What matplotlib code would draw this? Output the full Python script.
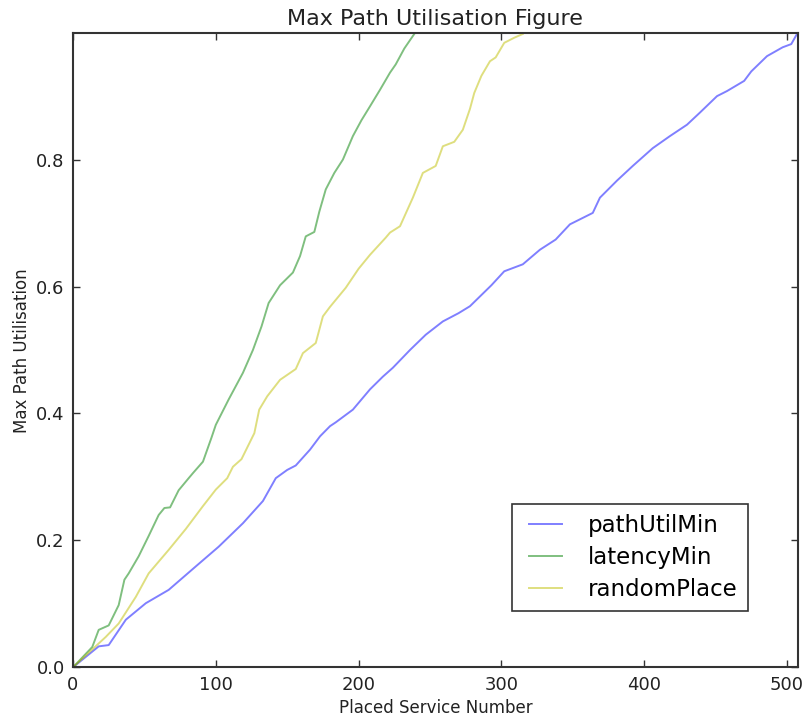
import matplotlib
matplotlib.use("Agg")
import matplotlib.pyplot as plt

# values
path_x = [0, 18, 25, 37, 51, 67, 86, 102, 119, 133, 142, 150, 156, 166, 173, 180, 184, 196,
          208, 217, 224, 236, 247, 259, 270, 278, 293, 302, 315, 327, 338, 348, 364, 369, 381,
          392, 406, 418, 430, 439, 451, 458, 470, 475, 486, 497, 503, 507]
path_y = [0.0, 0.033, 0.035, 0.075, 0.101, 0.122, 0.159, 0.190, 0.227, 0.262, 0.298, 0.311,
          0.318, 0.343, 0.364, 0.380, 0.386, 0.406, 0.438, 0.458, 0.472, 0.500, 0.524, 0.545,
          0.558, 0.569, 0.602, 0.624, 0.635, 0.658, 0.674, 0.698, 0.716, 0.740, 0.767, 0.790,
          0.818, 0.837, 0.855, 0.874, 0.900, 0.908, 0.924, 0.939, 0.963, 0.977, 0.982, 0.998]

lat_x = [0, 13.5, 18, 25, 32, 36, 39, 46, 53, 60, 64, 68, 74, 81, 84, 91, 97, 100, 109, 119,
         126, 132, 137, 145, 154, 159, 163, 169, 172.5, 177, 183, 189, 196, 202, 208, 215, 222,
         226, 232, 239]
lat_y = [0.0, 0.032, 0.059, 0.066, 0.098, 0.138, 0.148, 0.175, 0.207, 0.240, 0.251, 0.252,
         0.279, 0.298, 0.306, 0.324, 0.362, 0.382, 0.422, 0.464, 0.500, 0.537, 0.574, 0.602,
         0.622, 0.648, 0.679, 0.686, 0.718, 0.753, 0.779, 0.800, 0.837, 0.862, 0.884, 0.910,
         0.937, 0.950, 0.975, 0.998]

rand_x = [0, 23, 32, 44, 53, 67, 79, 91, 100, 108, 112, 118, 127, 130.4, 136, 145, 156, 161,
          170, 175, 180, 191, 200, 208, 219, 222, 229, 238, 245, 254, 259, 267, 273, 278, 281,
          286, 292, 296, 302, 309, 315]
rand_y = [0.0, 0.048, 0.069, 0.111, 0.148, 0.185, 0.218, 0.254, 0.280, 0.298, 0.316, 0.328,
          0.369, 0.406, 0.427, 0.453, 0.470, 0.495, 0.511, 0.553, 0.568, 0.598, 0.628, 0.650,
          0.677, 0.685, 0.695, 0.740, 0.779, 0.790, 0.821, 0.828, 0.847, 0.880, 0.905, 0.932,
          0.955, 0.961, 0.984, 0.992, 0.998]

labels = ['pathUtilMin', 'latencyMin', 'randomPlace']

fig = plt.figure(figsize=(8.03, 7.21), dpi=100)
ax = fig.add_axes([73 / 803, 1 - 667.3 / 721, 724.7 / 803, 634 / 721])

ax.plot(path_x, path_y, color='b', alpha=0.5, lw=1.4, label=labels[0])
ax.plot(lat_x, lat_y, color='g', alpha=0.5, lw=1.4, label=labels[1])
ax.plot(rand_x, rand_y, color='y', alpha=0.5, lw=1.4, label=labels[2])

ax.set_xlim(0, 507.5)
ax.set_ylim(0, 0.999)
ax.set_xticks([0, 100, 200, 300, 400, 500])
ax.set_yticks([0.0, 0.2, 0.4, 0.6, 0.8])
ax.tick_params(direction='in', top=True, right=True, length=5, width=1,
               labelsize=13, pad=6, color='#333333', labelcolor='#222222')
for s in ax.spines.values():
    s.set_linewidth(1.5)
    s.set_color('#333333')

ax.set_title('Max Path Utilisation Figure', fontsize=16, color='#222222')
ax.set_xlabel('Placed Service Number', fontsize=12, color='#222222')
ax.set_ylabel('Max Path Utilisation', fontsize=12, color='#222222')

leg = ax.legend(loc='lower right', bbox_to_anchor=(0.931, 0.089), borderaxespad=0,
                fontsize=16.5, fancybox=False, numpoints=2, handlelength=2.05,
                handletextpad=0.82, labelspacing=0.4, borderpad=0.43)
leg.get_frame().set_edgecolor('black')
leg.get_frame().set_linewidth(1.2)

fig.savefig('out.png', dpi=100)
plt.close()
